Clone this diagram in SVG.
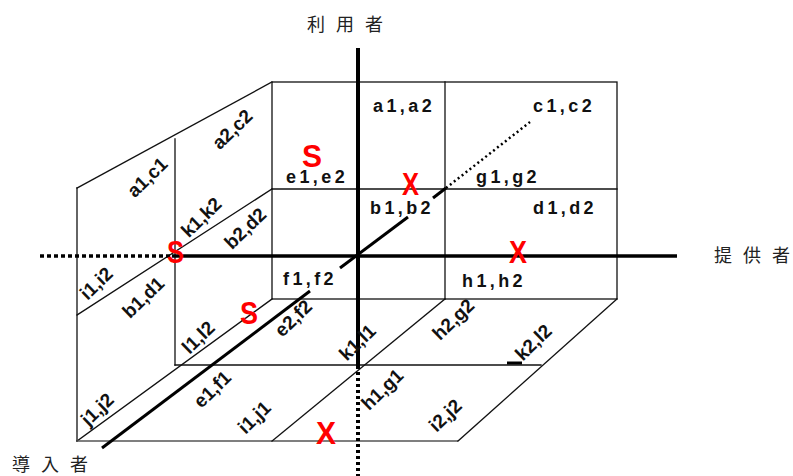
<svg xmlns="http://www.w3.org/2000/svg" width="793" height="476" viewBox="0 0 793 476">
<style>
.ln{stroke:#111;stroke-width:1.3;fill:none;stroke-linecap:square}
.gr{stroke:#555;stroke-width:1.6;fill:none}
.ax{stroke:#000;fill:none}
.lbl{font-family:"Liberation Sans",Arial,sans-serif;font-weight:bold;font-size:18px;fill:#111;letter-spacing:3.4px}
.rl{font-family:"Liberation Sans",Arial,sans-serif;font-weight:bold;font-size:19px;fill:#111;text-anchor:middle}
.cjk{font-family:"Noto Sans CJK JP","Noto Sans CJK SC",sans-serif;font-size:18px;fill:#222}
.mk{font-family:"Liberation Sans",Arial,sans-serif;font-weight:bold;font-size:32px;fill:#ff0000;text-anchor:middle}
</style>
<rect width="793" height="476" fill="#fff"/>

<g id="back-face">
<rect class="ln" x="272" y="82" width="345" height="217"/>
<line class="ln" x1="445" y1="82" x2="445" y2="299"/>
<line class="ln" x1="272" y1="189" x2="617" y2="189"/>
</g>

<g id="left-face">
<line class="ln" x1="272" y1="82" x2="77" y2="188"/>
<line class="ln" x1="77" y1="188" x2="77" y2="441"/>
<line class="ln" x1="175" y1="139" x2="175" y2="365"/>
<line class="ln" x1="272" y1="189" x2="77" y2="315"/>
<line class="ln" x1="77" y1="441" x2="272" y2="299"/>
</g>

<g id="floor">
<line class="gr" x1="77" y1="441" x2="458" y2="441"/>
<line class="ln" x1="458" y1="441" x2="617" y2="299"/>
<line class="ln" x1="175" y1="365" x2="541" y2="365"/>
<line class="ln" x1="445" y1="299" x2="272" y2="441"/>
</g>

<g id="connectors">
<line class="ax" x1="358" y1="48" x2="358" y2="366" stroke-width="4"/>
<line class="ax" x1="358" y1="366" x2="358" y2="476" stroke-width="4" stroke-dasharray="3 3"/>
<line class="ax" x1="40" y1="256" x2="172" y2="256" stroke-width="3.5" stroke-dasharray="4 3"/>
<line class="ax" x1="172" y1="256" x2="677" y2="256" stroke-width="3.5"/>
<line class="ax" x1="102" y1="448" x2="310" y2="291" stroke-width="3"/>
<line class="ax" x1="340" y1="268" x2="408" y2="217" stroke-width="3"/>
<line class="ax" x1="433" y1="198" x2="446" y2="188" stroke-width="3"/>
<line class="ax" x1="446" y1="188" x2="530" y2="122" stroke-width="2.5" stroke-dasharray="2 3"/>
<line class="ax" x1="507" y1="363" x2="522" y2="363" stroke-width="3"/>
</g>

<g id="axis-labels">
<text class="cjk" x="307 336 365" y="31">利用者</text>
<text class="cjk" x="714 743 772" y="262">提供者</text>
<text class="cjk" x="12 41 70" y="471">導入者</text>
</g>

<g id="back-labels">
<text class="lbl" x="373" y="112">a1,a2</text>
<text class="lbl" x="533" y="112">c1,c2</text>
<text class="lbl" x="286" y="183">e1,e2</text>
<text class="lbl" x="476" y="183">g1,g2</text>
<text class="lbl" x="370" y="214">b1,b2</text>
<text class="lbl" x="533" y="214">d1,d2</text>
<text class="lbl" x="283" y="285">f1,f2</text>
<text class="lbl" x="462" y="287">h1,h2</text>
</g>

<g id="side-labels">
<text class="rl" transform="translate(147,177) rotate(-44)" y="7">a1,c1</text>
<text class="rl" transform="translate(232,129) rotate(-44)" y="7">a2,c2</text>
<text class="rl" transform="translate(201,217) rotate(-44)" y="7">k1,k2</text>
<text class="rl" transform="translate(245,228) rotate(-44)" y="7">b2,d2</text>
<text class="rl" transform="translate(96,283) rotate(-44)" y="7">i1,i2</text>
<text class="rl" transform="translate(143,297) rotate(-44)" y="7">b1,d1</text>
<text class="rl" transform="translate(198,337) rotate(-44)" y="7">l1,l2</text>
<text class="rl" transform="translate(97,409) rotate(-44)" y="7">j1,j2</text>
<text class="rl" transform="translate(212,389) rotate(-44)" y="7">e1,f1</text>
<text class="rl" transform="translate(254,417) rotate(-44)" y="7">i1,j1</text>
<text class="rl" transform="translate(293,318) rotate(-44)" y="7">e2,f2</text>
<text class="rl" transform="translate(357,342) rotate(-44)" y="7">k1,l1</text>
<text class="rl" transform="translate(453,319) rotate(-44)" y="7">h2,g2</text>
<text class="rl" transform="translate(382,389) rotate(-44)" y="7">h1,g1</text>
<text class="rl" transform="translate(445,415) rotate(-44)" y="7">i2,j2</text>
<text class="rl" transform="translate(533,342) rotate(-44)" y="7">k2,l2</text>
</g>

<g id="marks">
<text class="mk" x="312" y="167" textLength="20" lengthAdjust="spacingAndGlyphs">S</text>
<text class="mk" x="175.5" y="263" textLength="17" lengthAdjust="spacingAndGlyphs">S</text>
<text class="mk" x="249" y="324" textLength="18" lengthAdjust="spacingAndGlyphs">S</text>
<text class="mk" x="410.5" y="195" textLength="17" lengthAdjust="spacingAndGlyphs">X</text>
<text class="mk" x="518" y="263" textLength="18" lengthAdjust="spacingAndGlyphs">X</text>
<text class="mk" x="326" y="444" textLength="20" lengthAdjust="spacingAndGlyphs">X</text>
</g>
</svg>
